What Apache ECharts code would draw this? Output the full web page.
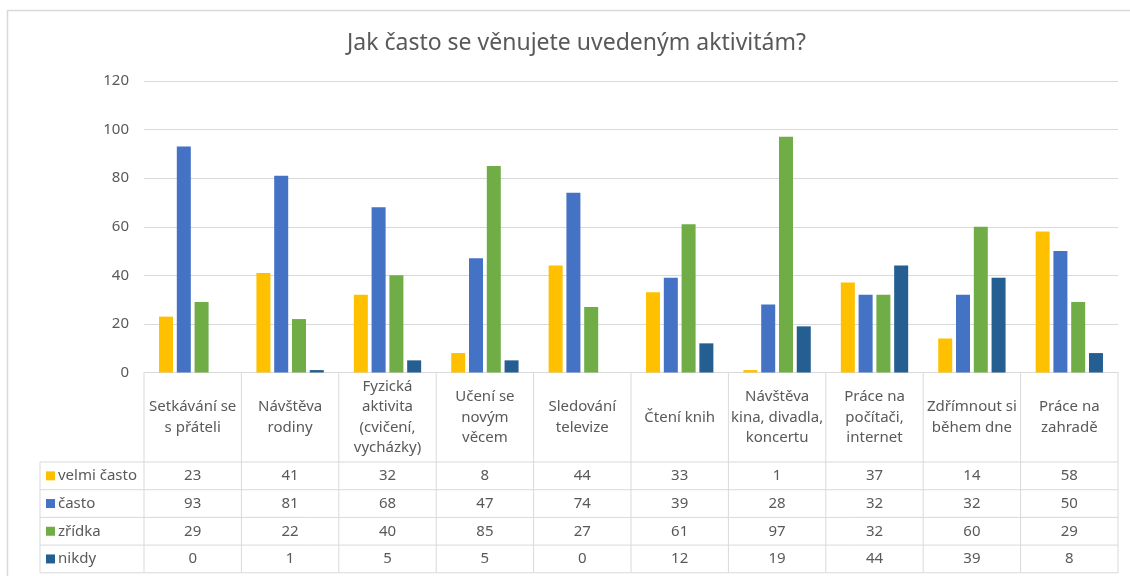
<!DOCTYPE html>
<html>
<head>
<meta charset="utf-8">
<script src="https://cdn.jsdelivr.net/npm/echarts@6/dist/echarts.min.js"></script>
<style>
  html, body { margin: 0; padding: 0; background: #fff; }
  #main { width: 1130px; height: 576px; }
</style>
</head>
<body>
<div id="main"></div>
<script>
// data
var categories = [
  'Setkávání se\ns přáteli',
  'Návštěva\nrodiny',
  'Fyzická\naktivita\n(cvičení,\nvycházky)',
  'Učení se\nnovým\nvěcem',
  'Sledování\ntelevize',
  'Čtení knih',
  'Návštěva\nkina, divadla,\nkoncertu',
  'Práce na\npočítači,\ninternet',
  'Zdřímnout si\nběhem dne',
  'Práce na\nzahradě'
];
var seriesNames = ['velmi často', 'často', 'zřídka', 'nikdy'];
var velmiCasto = [23, 41, 32, 8, 44, 33, 1, 37, 14, 58];
var casto = [93, 81, 68, 47, 74, 39, 28, 32, 32, 50];
var zridka = [29, 22, 40, 85, 27, 61, 97, 32, 60, 29];
var nikdy = [0, 1, 5, 5, 0, 12, 19, 44, 39, 8];
var yTicks = [0, 20, 40, 60, 80, 100, 120];

var colors = ['#FFC000', '#4472C4', '#70AD47', '#255E91'];
var allValues = [velmiCasto, casto, zridka, nikdy];
var font = 'Noto Sans';
var textColor = '#595959';
var lineColor = '#D9D9D9';
var fs = 15;

// layout of plot / table
var gridLeft = 144, gridRight = 1118, gridTop = 81, axisY = 372.5;
var headerBottom = 462;
var rowH = 27.7;
var legendLeft = 40;

var myChart = echarts.init(document.getElementById('main'));

var series = [];
for (var s = 0; s < 4; s++) {
  series.push({
    name: seriesNames[s],
    type: 'bar',
    data: allValues[s],
    barWidth: 14,
    barGap: '27%',
    itemStyle: { color: colors[s] },
    animation: false
  });
}

var option = {
  animation: false,
  backgroundColor: '#fff',
  title: {
    text: 'Jak často se věnujete uvedeným aktivitám?',
    left: 342,
    top: 27,
    textStyle: { fontFamily: font, fontSize: 23, fontWeight: 'normal', color: textColor }
  },
  grid: {
    left: gridLeft,
    right: 1130 - gridRight,
    top: gridTop,
    bottom: 576 - axisY,
    containLabel: false
  },
  xAxis: {
    type: 'category',
    data: categories,
    axisLine: { show: true, lineStyle: { color: lineColor, width: 1 } },
    axisTick: { show: false },
    axisLabel: { show: false }
  },
  yAxis: {
    type: 'value',
    min: yTicks[0],
    max: yTicks[yTicks.length - 1],
    interval: 20,
    axisLine: { show: false },
    axisTick: { show: false },
    axisLabel: { fontFamily: font, fontSize: fs, color: textColor, margin: 15 },
    splitLine: { lineStyle: { color: lineColor, width: 1 } }
  },
  series: series
};
myChart.setOption(option);

// data table under the plot, built from the same arrays
var g = [];
var colW = (gridRight - gridLeft) / categories.length;
var fontStr = fs + 'px "' + font + '"';
function hline(x1, x2, y) {
  g.push({ type: 'line', shape: { x1: x1, y1: y, x2: x2, y2: y }, style: { stroke: lineColor, lineWidth: 1 }, silent: true });
}
function vline(x, y1, y2) {
  g.push({ type: 'line', shape: { x1: x, y1: y1, x2: x, y2: y2 }, style: { stroke: lineColor, lineWidth: 1 }, silent: true });
}
var tableBottom = headerBottom + rowH * 4;
// horizontal lines
hline(legendLeft, gridRight, headerBottom);
for (var r = 1; r <= 4; r++) hline(legendLeft, gridRight, headerBottom + rowH * r);
// vertical lines
vline(legendLeft, headerBottom, tableBottom);
for (var c = 0; c <= categories.length; c++) {
  vline(gridLeft + colW * c, axisY, tableBottom);
}
// header text + values
for (var i = 0; i < categories.length; i++) {
  var cx = myChart.convertToPixel({ xAxisIndex: 0 }, i);
  g.push({
    type: 'text', silent: true,
    x: cx, y: (axisY + headerBottom) / 2,
    style: {
      text: categories[i], fill: textColor, font: fontStr,
      align: 'center', verticalAlign: 'middle', lineHeight: 20.5
    }
  });
  for (var s2 = 0; s2 < 4; s2++) {
    g.push({
      type: 'text', silent: true,
      x: cx, y: headerBottom + rowH * s2 + rowH / 2,
      style: {
        text: String(allValues[s2][i]), fill: textColor, font: fontStr,
        align: 'center', verticalAlign: 'middle'
      }
    });
  }
}
// legend keys
for (var k = 0; k < 4; k++) {
  var yc = headerBottom + rowH * k + rowH / 2;
  g.push({ type: 'rect', silent: true, shape: { x: 46, y: yc - 4.5, width: 9, height: 9 }, style: { fill: colors[k] } });
  g.push({
    type: 'text', silent: true, x: 58, y: yc,
    style: { text: seriesNames[k], fill: textColor, font: fontStr, align: 'left', verticalAlign: 'middle' }
  });
}
// outer chart frame
g.push({ type: 'line', silent: true, shape: { x1: 7, y1: 10.5, x2: 1130, y2: 10.5 }, style: { stroke: lineColor, lineWidth: 1.5 } });
g.push({ type: 'line', silent: true, shape: { x1: 7.5, y1: 10, x2: 7.5, y2: 576 }, style: { stroke: lineColor, lineWidth: 1.5 } });

myChart.setOption({ graphic: { elements: g } });
</script>
</body>
</html>
